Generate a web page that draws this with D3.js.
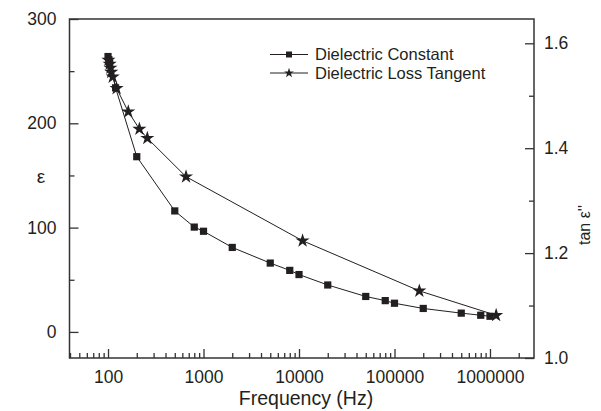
<!DOCTYPE html>
<html>
<head>
<meta charset="utf-8">
<script src="https://cdn.jsdelivr.net/npm/d3@7"></script>
<style>
  html, body { margin: 0; padding: 0; background: #fff; }
  svg text { font-family: "Liberation Sans", Arial, Helvetica, sans-serif; fill: #231f20; }
</style>
</head>
<body>
<svg id="chart" width="601" height="411"></svg>
<script>
// Dielectric constant (ε) vs frequency
const freqEps = [100, 102, 104, 120, 200, 500, 800, 1000, 2000, 5000, 8000, 10000, 20000, 50000, 80000, 100000, 200000, 500000, 800000, 1000000];
const epsValues = [264, 261, 258, 234, 168, 116, 100.5, 96.5, 81, 66, 59, 55, 45, 34, 30, 27.5, 22.5, 18, 16, 15];

// Dielectric loss tangent vs frequency
const freqTan = [101, 104, 106, 108, 112, 123, 163, 213, 258, 656, 10900, 182000, 1160000];
const tanValues = [1.568, 1.5605, 1.553, 1.545, 1.536, 1.514, 1.4696, 1.4366, 1.419, 1.3457, 1.2236, 1.128, 1.0814];

// Tick labels
const xTickLabels = ["100", "1000", "10000", "100000", "1000000"];
const xTickValues = [100, 1000, 10000, 100000, 1000000];
const yLeftTicks = [0, 100, 200, 300];
const yLeftMinor = [50, 150, 250];
const yRightTicks = ["1.0", "1.2", "1.4", "1.6"];
const yRightMinor = [1.1, 1.3, 1.5];

const legendLabels = ["Dielectric Constant", "Dielectric Loss Tangent"];

const svg = d3.select("#chart");
const plotLeft = 69.5, plotRight = 534, plotTop = 19, plotBottom = 358;

const x = d3.scaleLog().domain([39.5, 2.89e6]).range([plotLeft, plotRight]);
const yL = d3.scaleLinear().domain([-25, 300]).range([plotBottom, plotTop]);
const yR = d3.scaleLinear().domain([1.0, 1.0 + (plotBottom - plotTop) / 524.5]).range([plotBottom, plotTop]);

const axisColor = "#333";
const fontSize = 17.5;

// Frame
svg.append("rect")
  .attr("x", plotLeft).attr("y", plotTop)
  .attr("width", plotRight - plotLeft).attr("height", plotBottom - plotTop)
  .attr("fill", "none").attr("stroke", axisColor).attr("stroke-width", 1.5);

// Bottom axis: ticks pointing inward
const xMinor = [];
for (let d = 10; d <= 1e6; d *= 10) {
  for (let m = 2; m <= 9; m++) {
    const v = d * m;
    if (v > x.domain()[0] && v < x.domain()[1]) xMinor.push(v);
  }
}
const gx = svg.append("g").attr("transform", `translate(0,${plotBottom})`);
gx.append("g").call(d3.axisBottom(x).tickValues(xMinor).tickSize(-5).tickFormat(""))
  .call(g => g.select(".domain").remove());
gx.append("g").call(d3.axisBottom(x).tickValues(xTickValues).tickSize(-9)
  .tickFormat((d, i) => xTickLabels[i]).tickPadding(13))
  .call(g => g.select(".domain").remove());
gx.selectAll("line").attr("stroke", axisColor).attr("stroke-width", 1.3);
gx.selectAll("text").attr("font-size", fontSize).attr("fill", "#231f20")
  .attr("font-family", "Liberation Sans, Arial, sans-serif");

// Left axis: ticks pointing inward
const gl = svg.append("g").attr("transform", `translate(${plotLeft},0)`);
gl.append("g").call(d3.axisLeft(yL).tickValues(yLeftMinor).tickSize(-5).tickFormat(""))
  .call(g => g.select(".domain").remove());
gl.append("g").call(d3.axisLeft(yL).tickValues(yLeftTicks).tickSize(-9).tickPadding(13))
  .call(g => g.select(".domain").remove());
gl.selectAll("line").attr("stroke", axisColor).attr("stroke-width", 1.3);
gl.selectAll("text").attr("font-size", fontSize).attr("fill", "#231f20")
  .attr("font-family", "Liberation Sans, Arial, sans-serif");

// Right axis: ticks pointing inward
const gr = svg.append("g").attr("transform", `translate(${plotRight},0)`);
gr.append("g").call(d3.axisRight(yR).tickValues(yRightMinor).tickSize(-5).tickFormat(""))
  .call(g => g.select(".domain").remove());
gr.append("g").call(d3.axisRight(yR).tickValues(yRightTicks.map(Number)).tickSize(-9).tickPadding(10)
  .tickFormat((d, i) => yRightTicks[i]))
  .call(g => g.select(".domain").remove());
gr.selectAll("line").attr("stroke", axisColor).attr("stroke-width", 1.3);
gr.selectAll("text").attr("font-size", fontSize).attr("fill", "#231f20")
  .attr("font-family", "Liberation Sans, Arial, sans-serif");

// Axis titles
svg.append("text")
  .attr("x", 306).attr("y", 405)
  .attr("text-anchor", "middle")
  .attr("font-size", 19.5)
  .text("Frequency (Hz)");

svg.append("text")
  .attr("x", 41).attr("y", 183)
  .attr("text-anchor", "middle")
  .attr("font-size", 19)
  .text("ε");

svg.append("text")
  .attr("transform", "translate(590,225) rotate(-90)")
  .attr("text-anchor", "middle")
  .attr("font-size", 16)
  .text("tan ε''");

// Series lines
const lineColor = "#231f20";
const markColor = "#231f20";
const epsPts = freqEps.map((f, i) => [x(f), yL(epsValues[i])]);
const tanPts = freqTan.map((f, i) => [x(f), yR(tanValues[i])]);

svg.append("path")
  .attr("d", d3.line()(epsPts))
  .attr("fill", "none").attr("stroke", lineColor).attr("stroke-width", 1);
svg.append("path")
  .attr("d", d3.line()(tanPts))
  .attr("fill", "none").attr("stroke", lineColor).attr("stroke-width", 1);

const square = d3.symbol().type(d3.symbolSquare).size(52);
const star = d3.symbol().type(d3.symbolStar).size(62);

svg.append("g").selectAll("path")
  .data(epsPts).join("path")
  .attr("transform", d => `translate(${d[0]},${d[1]})`)
  .attr("d", square).attr("fill", markColor);

svg.append("g").selectAll("path")
  .data(tanPts).join("path")
  .attr("transform", d => `translate(${d[0]},${d[1]})`)
  .attr("d", star).attr("fill", markColor);

// Legend
const legend = svg.append("g");
const rows = [
  { label: legendLabels[0], y: 54.5, sym: d3.symbol().type(d3.symbolSquare).size(36) },
  { label: legendLabels[1], y: 73, sym: d3.symbol().type(d3.symbolStar).size(30) }
];
rows.forEach(r => {
  legend.append("line")
    .attr("x1", 270).attr("x2", 308).attr("y1", r.y).attr("y2", r.y)
    .attr("stroke", lineColor).attr("stroke-width", 1);
  legend.append("path")
    .attr("transform", `translate(289,${r.y})`)
    .attr("d", r.sym).attr("fill", markColor);
  legend.append("text")
    .attr("x", 315).attr("y", r.y).attr("dy", "0.35em")
    .attr("font-size", 16.5)
    .text(r.label);
});
</script>
</body>
</html>
